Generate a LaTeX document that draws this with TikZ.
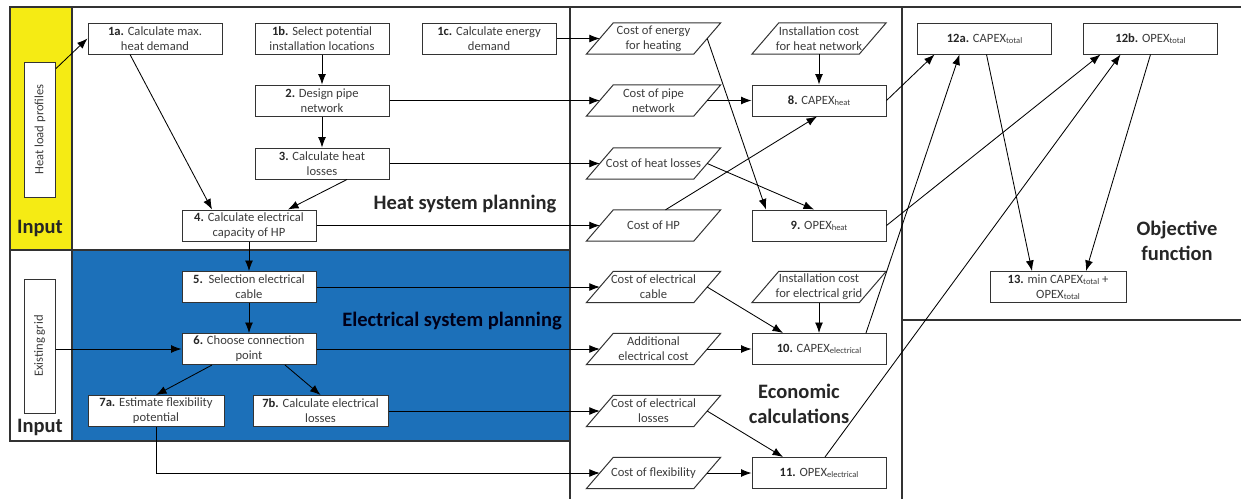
\documentclass[tikz,border=0pt]{standalone}
\usepackage{fontspec}
\setmainfont{Carlito}
\usetikzlibrary{arrows.meta,calc}
\definecolor{inyellow}{RGB}{245,235,20}
\definecolor{elblue}{RGB}{28,112,185}
\definecolor{txt}{RGB}{60,60,60}
\definecolor{frame}{RGB}{50,50,50}
\newcommand\sub[1]{\raisebox{-0.8pt}{\fontsize{8.5}{9}\selectfont #1}}
\newcommand\num[1]{\textbf{\color{black!85}#1}}
\newcommand\pgram[3]{%
  \node[ptext] (#1) at (#2) {#3};
  \draw[pline] (#1.south west) -- ($(#1.south east)+(-27,0)$) -- (#1.north east) -- ($(#1.north west)+(27,0)$) -- cycle;
  \coordinate (#1-w) at ($(#1.west)+(13.5,0)$);
  \coordinate (#1-e) at ($(#1.east)+(-13.5,0)$);
}
\begin{document}
\begin{tikzpicture}[x=1pt,y=-1pt,
  box/.style={draw=black!80, fill=white, line width=1pt, minimum width=134pt, minimum height=31pt, inner sep=0pt, align=center, font=\fontsize{12.6}{15}\selectfont, text=txt},
  ptext/.style={minimum width=134pt, minimum height=31pt, inner sep=0pt, align=center, font=\fontsize{12.6}{15}\selectfont, text=txt},
  pline/.style={draw=black!80, line width=1pt},
  conn/.style={draw=black, line width=0.85pt, -{Latex[length=10.5pt,width=8pt]}},
  big/.style={font=\fontsize{20.5}{25}\selectfont\bfseries, text=black!85, align=center},
  frm/.style={draw=frame, line width=1.2pt}
]
\useasboundingbox (0,0) rectangle (1241,499);
% regions
\fill[inyellow] (10,7) rectangle (72,250);
\fill[elblue] (72,250) rectangle (570,441);
\draw[frm] (10,7) rectangle (570,441);
\draw[frm] (10,250) -- (570,250);
\draw[frm] (72,7) -- (72,441);
\draw[frm] (570,7) -- (1241,7);
\draw[frm] (570,7) -- (570,499);
\draw[frm] (902,7) -- (902,499);
\draw[frm] (902,320) -- (1241,320);

% labels
\node[big] (lin1) at (40,228) {Input};
\node[big] (lin2) at (40,427) {Input};
\node[big] (lhs) at (465,204) {Heat system planning};
\node[big, text=black!90!blue] (les) at (452,321) {Electrical system planning};
\node[big] (lec) at (799,404) {Economic\\calculations};
\node[big] (lob) at (1177,241) {Objective\\function};

% input boxes
\node[box, minimum width=31pt, minimum height=135pt] (hl) at (40,129.5) {\rotatebox{90}{Heat load profiles}};
\node[box, minimum width=31pt, minimum height=134pt] (eg) at (39.5,346) {\rotatebox{90}{Existing grid}};

% heat planning
\node[box] (n1a) at (155,38.5) {\num{1a.} Calculate max.\\heat demand};
\node[box] (n1b) at (322,38.5) {\num{1b.} Select potential\\installation locations};
\node[box] (n1c) at (489,38.5) {\num{1c.} Calculate energy\\demand};
\node[box] (n2) at (322,100.5) {\num{2.} Design pipe\\network};
\node[box] (n3) at (322,163.5) {\num{3.} Calculate heat\\losses};
\node[box] (n4) at (249,225.5) {\num{4.} Calculate electrical\\capacity of HP};

% electrical planning
\node[box] (n5) at (249,287) {\num{5.}\ \ Selection electrical\\cable};
\node[box] (n6) at (249,349) {\num{6.} Choose connection\\point};
\node[box, minimum width=136pt] (n7a) at (156,411) {\num{7a.} Estimate flexibility\\potential};
\node[box, minimum width=135pt] (n7b) at (320.5,411) {\num{7b.} Calculate electrical\\losses};

% economic
\pgram{ce}{653.5,38.5}{Cost of energy\\for heating}
\pgram{ihn}{819,38.5}{Installation cost\\for heat network}
\pgram{cpn}{653.5,100.5}{Cost of pipe\\network}
\node[box] (n8) at (819,100.5) {\num{8.} CAPEX\sub{heat}};
\pgram{chl}{653.5,163.5}{Cost of heat losses}
\pgram{chp}{653.5,225.5}{Cost of HP}
\node[box] (n9) at (819,225.5) {\num{9.} OPEX\sub{heat}};
\pgram{cec}{653.5,287}{Cost of electrical\\cable}
\pgram{ieg}{819,287}{Installation cost\\for electrical grid}
\pgram{aec}{653.5,349}{Additional\\electrical cost}
\node[box] (n10) at (819,349) {\num{10.} CAPEX\sub{electrical}};
\pgram{cel}{653.5,411}{Cost of electrical\\losses}
\pgram{cfl}{653.5,473}{Cost of flexibility}
\node[box] (n11) at (819,473) {\num{11.} OPEX\sub{electrical}};

% objective
\node[box] (n12a) at (984.5,38.5) {\num{12a.} CAPEX\sub{total}};
\node[box] (n12b) at (1150.5,38.5) {\num{12b.} OPEX\sub{total}};
\node[box, minimum width=136pt] (n13) at (1058,287) {\num{13.} min CAPEX\sub{total} +\\OPEX\sub{total}};

% connectors: planning
\draw[conn] ($(hl.north east)+(0,7)$) -- (n1a.west);
\draw[conn] ($(n1a.south)+(-25,0)$) -- ($(n4.north)+(-37,0)$);
\draw[conn] (n1b.south) -- (n2.north);
\draw[conn] (n2.south) -- (n3.north);
\draw[conn] ($(n3.south)+(25,0)$) -- ($(n4.north)+(39,0)$);
\draw[conn] (n4.south) -- (n5.north);
\draw[conn] (n5.south) -- (n6.north);
\draw[conn] (eg.east |- n6.west) -- (n6.west);
\draw[conn] ($(n6.south)+(-37,0)$) -- (n7a.north);
\draw[conn] ($(n6.south)+(36,0)$) -- (n7b.north);

% planning -> costs
\draw[conn] (n1c.east) -- (ce-w);
\draw[conn] (n2.east) -- (cpn-w);
\draw[conn] (n3.east) -- (chl-w);
\draw[conn] (n4.east) -- (chp-w);
\draw[conn] (n5.east) -- (cec-w);
\draw[conn] (n6.east) -- (aec-w);
\draw[conn] (n7b.east) -- (cel-w);
\draw[conn] (n7a.south) |- (cfl-w);

% costs -> capex/opex
\draw[conn] (ce-e) -- ($(n9.north)+(-53,0)$);
\draw[conn] (ihn.south) -- (n8.north);
\draw[conn] (cpn-e) -- (n8.west);
\draw[conn] (chl-e) -- ($(n9.north)+(-5,0)$);
\draw[conn] ($(chp.north)+(12,0)$) -- ($(n8.south)+(-2,0)$);
\draw[conn] (cec-e) -- ($(n10.north)+(-36,0)$);
\draw[conn] (ieg.south) -- (n10.north);
\draw[conn] (aec-e) -- (n10.west);
\draw[conn] (cel-e) -- ($(n11.north)+(-36,0)$);
\draw[conn] (cfl-e) -- (n11.west);

% -> totals
\draw[conn] (n8.east) -- ($(n12a.south)+(-50,0)$);
\draw[conn] (n9.east) -- ($(n12b.south)+(-50,0)$);
\draw[conn] ($(n10.north)+(47,0)$) -- ($(n12a.south)+(-25,0)$);
\draw[conn] ($(n11.north)+(6,0)$) -- ($(n12b.south)+(-30,0)$);
\draw[conn] ($(n12a.south)+(2,0)$) -- ($(n13.north)+(-26,0)$);
\draw[conn] (n12b.south) -- ($(n13.north)+(28,0)$);
\end{tikzpicture}
\end{document}
